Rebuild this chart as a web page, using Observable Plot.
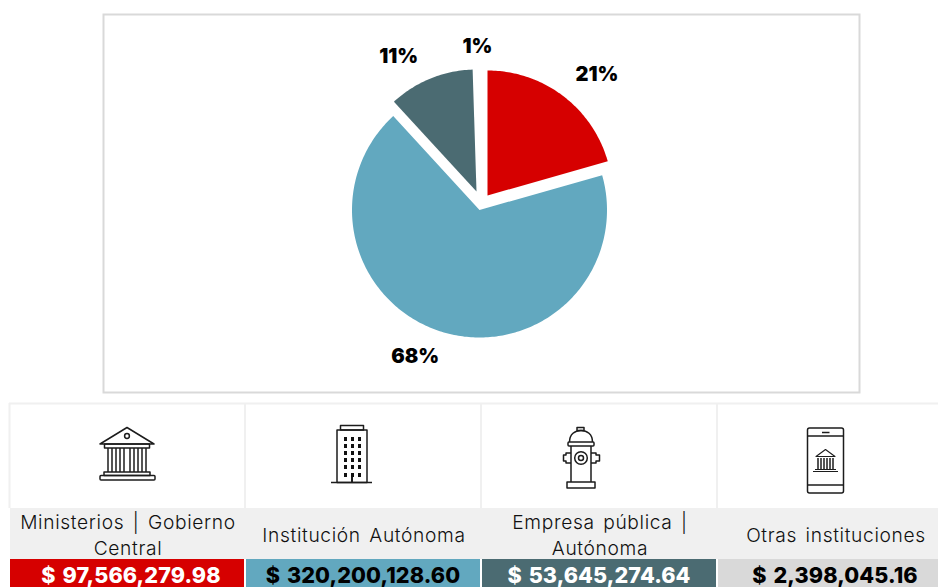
<!DOCTYPE html>
<html lang="es">
<head>
<meta charset="utf-8">
<script src="https://cdn.jsdelivr.net/npm/d3@7"></script>
<script src="https://cdn.jsdelivr.net/npm/@observablehq/plot@0.6"></script>
<style>
html,body{margin:0;padding:0;background:#fff;width:938px;height:587px;overflow:hidden}
#chart{position:absolute;left:0;top:0}
#cards{position:absolute;left:0;top:0;width:938px;height:587px;overflow:hidden}
.cell{position:absolute}
.label{background:#f0f0f0;display:flex;align-items:center;justify-content:center;text-align:center;
 font:300 19.2px/26px Inter,sans-serif;letter-spacing:.65px;word-spacing:2.5px;color:#111;box-sizing:border-box;padding:2px 2px 0;top:508px;height:51px}
.value{top:559px;height:28px;text-align:center;font:800 21.6px/33px Inter,sans-serif;letter-spacing:.1px;word-spacing:2px;box-sizing:border-box}
.icon{position:absolute;left:0;top:0}
</style>
</head>
<body>
<div id="chart"></div>
<div id="cards"></div>
<script>
const categories = ["Ministerios | Gobierno Central", "Institución Autónoma", "Empresa pública | Autónoma", "Otras instituciones"];
const amounts = [97566279.98, 320200128.60, 53645274.64, 2398045.16];
const amountLabels = ["$ 97,566,279.98", "$ 320,200,128.60", "$ 53,645,274.64", "$ 2,398,045.16"];
const shareLabels = ["21%", "68%", "11%", "1%"];
const sliceColors = ["#d60000", "#62a8bf", "#4b6b72", "#ffffff"];
const bandColors = ["#d60000", "#62a8bf", "#4b6b72", "#d9d9d9"];
const valueColors = ["#ffffff", "#000000", "#ffffff", "#000000"];
const explodeX = [8, 0, -3, 2];
const explodeY = [14, -0.5, 18, 20];
const radii = [125, 127.5, 122, 122];
const labelDx = [18, -19.5, -18.5, 0.5];
const labelDy = [-3, -12, 0, 2];

const arcs = d3.pie().sort(null).startAngle(0)(amounts);
const slices = [];
arcs.forEach((a, i) => {
  const cx = explodeX[i], cy = explodeY[i], r = radii[i];
  slices.push({name: categories[i], x: cx, y: cy});
  const steps = Math.max(2, Math.ceil((a.endAngle - a.startAngle) * 60));
  for (let k = 0; k <= steps; k++) {
    const t = a.startAngle + (a.endAngle - a.startAngle) * k / steps;
    slices.push({name: categories[i], x: cx + r * Math.sin(t), y: cy + r * Math.cos(t)});
  }
});
const labels = arcs.map((a, i) => {
  const t = (a.startAngle + a.endAngle) / 2;
  return {text: shareLabels[i], x: 165 * Math.sin(t) + labelDx[i], y: 165 * Math.cos(t) - labelDy[i]};
});

const plot = Plot.plot({
  width: 938, height: 394,
  marginLeft: 103, marginRight: 79, marginTop: 14, marginBottom: 2,
  x: {domain: [-376, 380], axis: null},
  y: {domain: [-183, 195], axis: null},
  color: {domain: categories, range: sliceColors},
  marks: [
    Plot.frame({stroke: "#d9d9d9", strokeWidth: 2}),
    Plot.line(slices, {x: "x", y: "y", z: "name", fill: "name", stroke: "none"}),
    Plot.text(labels, {x: "x", y: "y", text: "text", fontSize: 20, fontWeight: 900,
      fontFamily: "Inter, sans-serif", fill: "#000", letterSpacing: "-0.5px"})
  ]
});
plot.style.display = "block";
document.getElementById("chart").append(plot);

const colX = [10, 246, 482, 718];
const colW = [234, 234, 234, 234];
const valuePad = [8, 0, 0, 0];
const cards = document.getElementById("cards");
categories.forEach((c, i) => {
  const l = document.createElement("div");
  l.className = "cell label";
  l.style.left = colX[i] + "px"; l.style.width = (colW[i] + 2) + "px";
  l.textContent = c;
  cards.append(l);
  const v = document.createElement("div");
  v.className = "cell value";
  v.style.left = colX[i] + "px"; v.style.width = colW[i] + "px";
  v.style.paddingLeft = valuePad[i] + "px";
  v.style.background = bandColors[i];
  v.style.color = valueColors[i];
  v.textContent = amountLabels[i];
  cards.append(v);
});

// Decorative icons and cell rules
const windows = [];
[344,351,358].forEach(x => [437,444,451,458,465,473].forEach(y => windows.push(`<rect x="${x}" y="${y}" width="3" height="4" fill="#111"/>`)));
const cols = (xs, y1, y2) => xs.map(x => `<line x1="${x}" x2="${x}" y1="${y1}" y2="${y2}"/>`).join("");
const iconSvg = `
<svg class="icon" width="938" height="587" viewBox="0 0 938 587" xmlns="http://www.w3.org/2000/svg">
 <g stroke="#f0f0f0" stroke-width="2" fill="none">
  <path d="M9 403.5H938M9.5 403V508M245 403V508M481 403V508M717 403V508"/>
 </g>
 <g fill="none" stroke="#1c1c1c" stroke-width="1.5" stroke-linejoin="round">
  <path d="M127 427.5L154 444H100Z"/><circle cx="127" cy="436" r="2.4"/>
  <rect x="104.5" y="444" width="45" height="4"/>
  ${cols([108,112,116,120,124,130,134,138,142,146], 448, 472)}
  <rect x="104" y="472" width="46" height="3.5"/><rect x="100" y="475.5" width="55" height="4.5" rx="1"/>

  <rect x="340.5" y="425.5" width="23" height="4.5"/><rect x="337" y="430" width="30" height="52.5"/>
  <path d="M331 482.5H372"/><path d="M352 477V482" stroke-width="2"/>

  <rect x="577" y="427.5" width="7" height="3"/><path d="M569.5 442C569.5 434 575 430.5 581 430.5S592.5 434 592.5 442"/>
  <rect x="568" y="442" width="26" height="4" rx="1"/><path d="M571 446V482M591 446V482"/>
  <rect x="567" y="482" width="28" height="6"/>
  <path d="M571 453H566V455H563.5V461H566V463H571M591 453H596V455H599.5V461H596V463H591"/>
  <circle cx="581" cy="458" r="6.3"/><circle cx="581" cy="458" r="2.5"/>

  <rect x="807.5" y="428" width="36" height="65" rx="2"/><path d="M807.5 436H843.5M807.5 485H843.5"/>
  <path d="M822 432.5H829.5"/>
  <path d="M825.5 449.5L835 456.5H816Z" stroke-width="1.1"/>
  ${cols([818,821,824,827,830,833], 458, 469)}
  <path d="M815 469.5H836M813 471.5H838" stroke-width="1.1"/>
 </g>
 ${windows.join("")}
</svg>`;
cards.insertAdjacentHTML("beforeend", iconSvg);
</script>
</body>
</html>
